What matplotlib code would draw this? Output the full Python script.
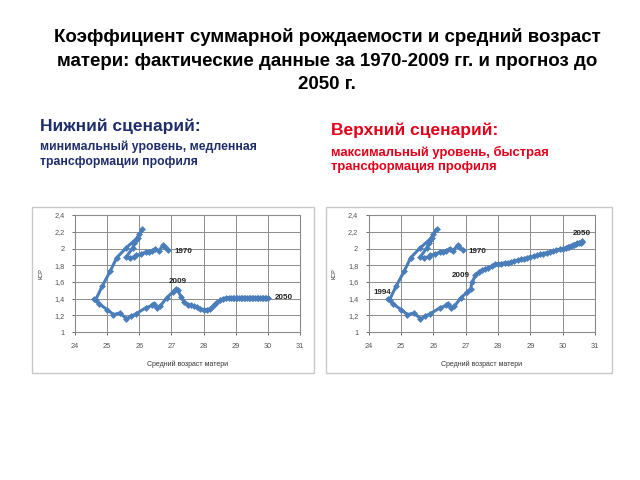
import matplotlib.pyplot as plt
from matplotlib.patches import Rectangle
from matplotlib.ticker import FuncFormatter

plt.rcParams['font.family'] = ['Liberation Sans', 'DejaVu Sans']

# фактические данные 1970-2009: средний возраст матери и КСР
hist_age = [26.9, 26.8, 26.75, 26.6, 26.5, 26.4, 26.3, 26.2, 26.05, 25.9,
            25.85, 25.7, 25.6, 25.8, 25.85, 25.9, 26.0, 26.1, 25.95, 25.6,
            25.3, 25.1, 24.85, 24.65, 24.6, 24.75, 25.0, 25.2, 25.4, 25.6,
            25.75, 25.9, 26.2, 26.4, 26.45, 26.55, 26.65, 26.85, 27.05, 27.15]
hist_tfr = [1.98, 2.02, 2.04, 1.97, 2.00, 1.97, 1.96, 1.96, 1.93, 1.92,
            1.90, 1.89, 1.90, 2.01, 2.06, 2.10, 2.17, 2.23, 2.13, 2.01,
            1.89, 1.73, 1.55, 1.39, 1.40, 1.34, 1.27, 1.21, 1.23, 1.16,
            1.19, 1.22, 1.29, 1.32, 1.34, 1.29, 1.31, 1.41, 1.48, 1.52]

# прогноз 2010-2050, нижний сценарий
low_age = [27.2, 27.3, 27.4, 27.5, 27.6, 27.7, 27.8, 27.9, 28.0, 28.1,
           28.2, 28.3, 28.4, 28.5, 28.6, 28.7, 28.8, 28.85, 28.9, 28.95,
           29.0, 29.05, 29.1, 29.15, 29.2, 29.25, 29.3, 29.35, 29.4, 29.45,
           29.5, 29.55, 29.6, 29.65, 29.7, 29.75, 29.8, 29.85, 29.9, 29.95, 30.0]
low_tfr = [1.50, 1.42, 1.36, 1.33, 1.32, 1.31, 1.30, 1.28, 1.27, 1.27,
           1.28, 1.31, 1.35, 1.38, 1.40, 1.41, 1.41, 1.41, 1.41, 1.41,
           1.41, 1.41, 1.41, 1.41, 1.41, 1.41, 1.41, 1.41, 1.41, 1.41,
           1.41, 1.41, 1.41, 1.41, 1.41, 1.41, 1.41, 1.41, 1.41, 1.41, 1.41]

# прогноз 2010-2050, верхний сценарий
high_age = [27.2, 27.3, 27.4, 27.5, 27.6, 27.7, 27.8, 27.9, 28.0, 28.1,
            28.2, 28.3, 28.4, 28.5, 28.6, 28.7, 28.8, 28.9, 29.0, 29.1,
            29.2, 29.3, 29.4, 29.5, 29.6, 29.7, 29.8, 29.9, 30.0, 30.1,
            30.15, 30.2, 30.25, 30.3, 30.35, 30.4, 30.45, 30.5, 30.55, 30.58, 30.6]
high_tfr = [1.60, 1.68, 1.72, 1.74, 1.76, 1.77, 1.79, 1.81, 1.82, 1.82,
            1.83, 1.83, 1.84, 1.85, 1.86, 1.87, 1.88, 1.89, 1.90, 1.91,
            1.92, 1.93, 1.94, 1.95, 1.96, 1.97, 1.98, 1.99, 2.00, 2.01,
            2.02, 2.02, 2.03, 2.04, 2.04, 2.05, 2.06, 2.07, 2.07, 2.08, 2.09]

x_ticks = [24, 25, 26, 27, 28, 29, 30, 31]
y_ticks = [1, 1.2, 1.4, 1.6, 1.8, 2, 2.2, 2.4]

blue = '#4A7EBB'
grid_col = '#8C8C8C'

fig = plt.figure(figsize=(6.4, 4.8), dpi=100)

fig.text(0.511, 0.873, 'Коэффициент суммарной рождаемости и средний возраст\n'
         'матери: фактические данные за 1970-2009 гг. и прогноз до\n2050 г.',
         ha='center', va='center', fontsize=13.5, fontweight='bold', linespacing=1.5)

navy = '#1F2D6B'
red = '#E3001B'
fig.text(0.062, 0.738, 'Нижний сценарий:', fontsize=12.5, fontweight='bold', color=navy, va='center')
fig.text(0.062, 0.678, 'минимальный уровень, медленная\nтрансформации профиля',
         fontsize=8.8, fontweight='bold', color=navy, va='center', linespacing=1.3)
fig.text(0.517, 0.728, 'Верхний сценарий:', fontsize=12.5, fontweight='bold', color=red, va='center')
fig.text(0.517, 0.668, 'максимальный уровень, быстрая\nтрансформация профиля',
         fontsize=9.4, fontweight='bold', color=red, va='center', linespacing=1.2)


def comma(v, pos):
    s = ('%.1f' % v).rstrip('0').rstrip('.')
    return s.replace('.', ',')


def draw_chart(frame, rect, proj_age, proj_tfr, labels):
    fig.patches.append(Rectangle(frame[:2], frame[2], frame[3], transform=fig.transFigure,
                                 facecolor='none', edgecolor='#C8C8C8', linewidth=1.0, zorder=-1))
    ax = fig.add_axes(rect)
    ax.set_zorder(2)
    ax.plot(hist_age + proj_age, hist_tfr + proj_tfr, color=blue, linewidth=2.2,
            marker='D', markersize=3.5, markeredgewidth=0, zorder=3)
    ax.set_xlim(24, 31)
    ax.set_ylim(1, 2.4)
    ax.set_xticks(x_ticks)
    ax.set_yticks(y_ticks)
    ax.yaxis.set_major_formatter(FuncFormatter(comma))
    ax.grid(True, color=grid_col, linewidth=0.7)
    ax.set_axisbelow(True)
    for s in ax.spines.values():
        s.set_color(grid_col)
        s.set_linewidth(0.8)
    ax.tick_params(labelsize=5.3, colors='#555555', length=2.5, width=0.6, pad=5)
    ax.set_xlabel('Средний возраст матери', fontsize=5, color='#333333', labelpad=8)
    ax.set_ylabel('КСР', fontsize=4, color='#333333', labelpad=8)
    for txt, x, y, ha in labels:
        ax.text(x, y, txt, fontsize=5.8, fontweight='bold', ha=ha, va='center', color='#222222')
    return ax


draw_chart((0.05, 0.223, 0.441, 0.346), (0.117, 0.308, 0.352, 0.244), low_age, low_tfr,
           [('1970', 27.1, 1.96, 'left'), ('2009', 27.2, 1.6, 'center'),
            ('2050', 30.2, 1.41, 'left')])
draw_chart((0.509, 0.223, 0.447, 0.346), (0.576, 0.308, 0.354, 0.244), high_age, high_tfr,
           [('1970', 27.07, 1.96, 'left'), ('2009', 26.86, 1.68, 'center'),
            ('2050', 30.6, 2.18, 'center'), ('1994', 24.42, 1.47, 'center')])

fig.savefig('out.png', dpi=100)
